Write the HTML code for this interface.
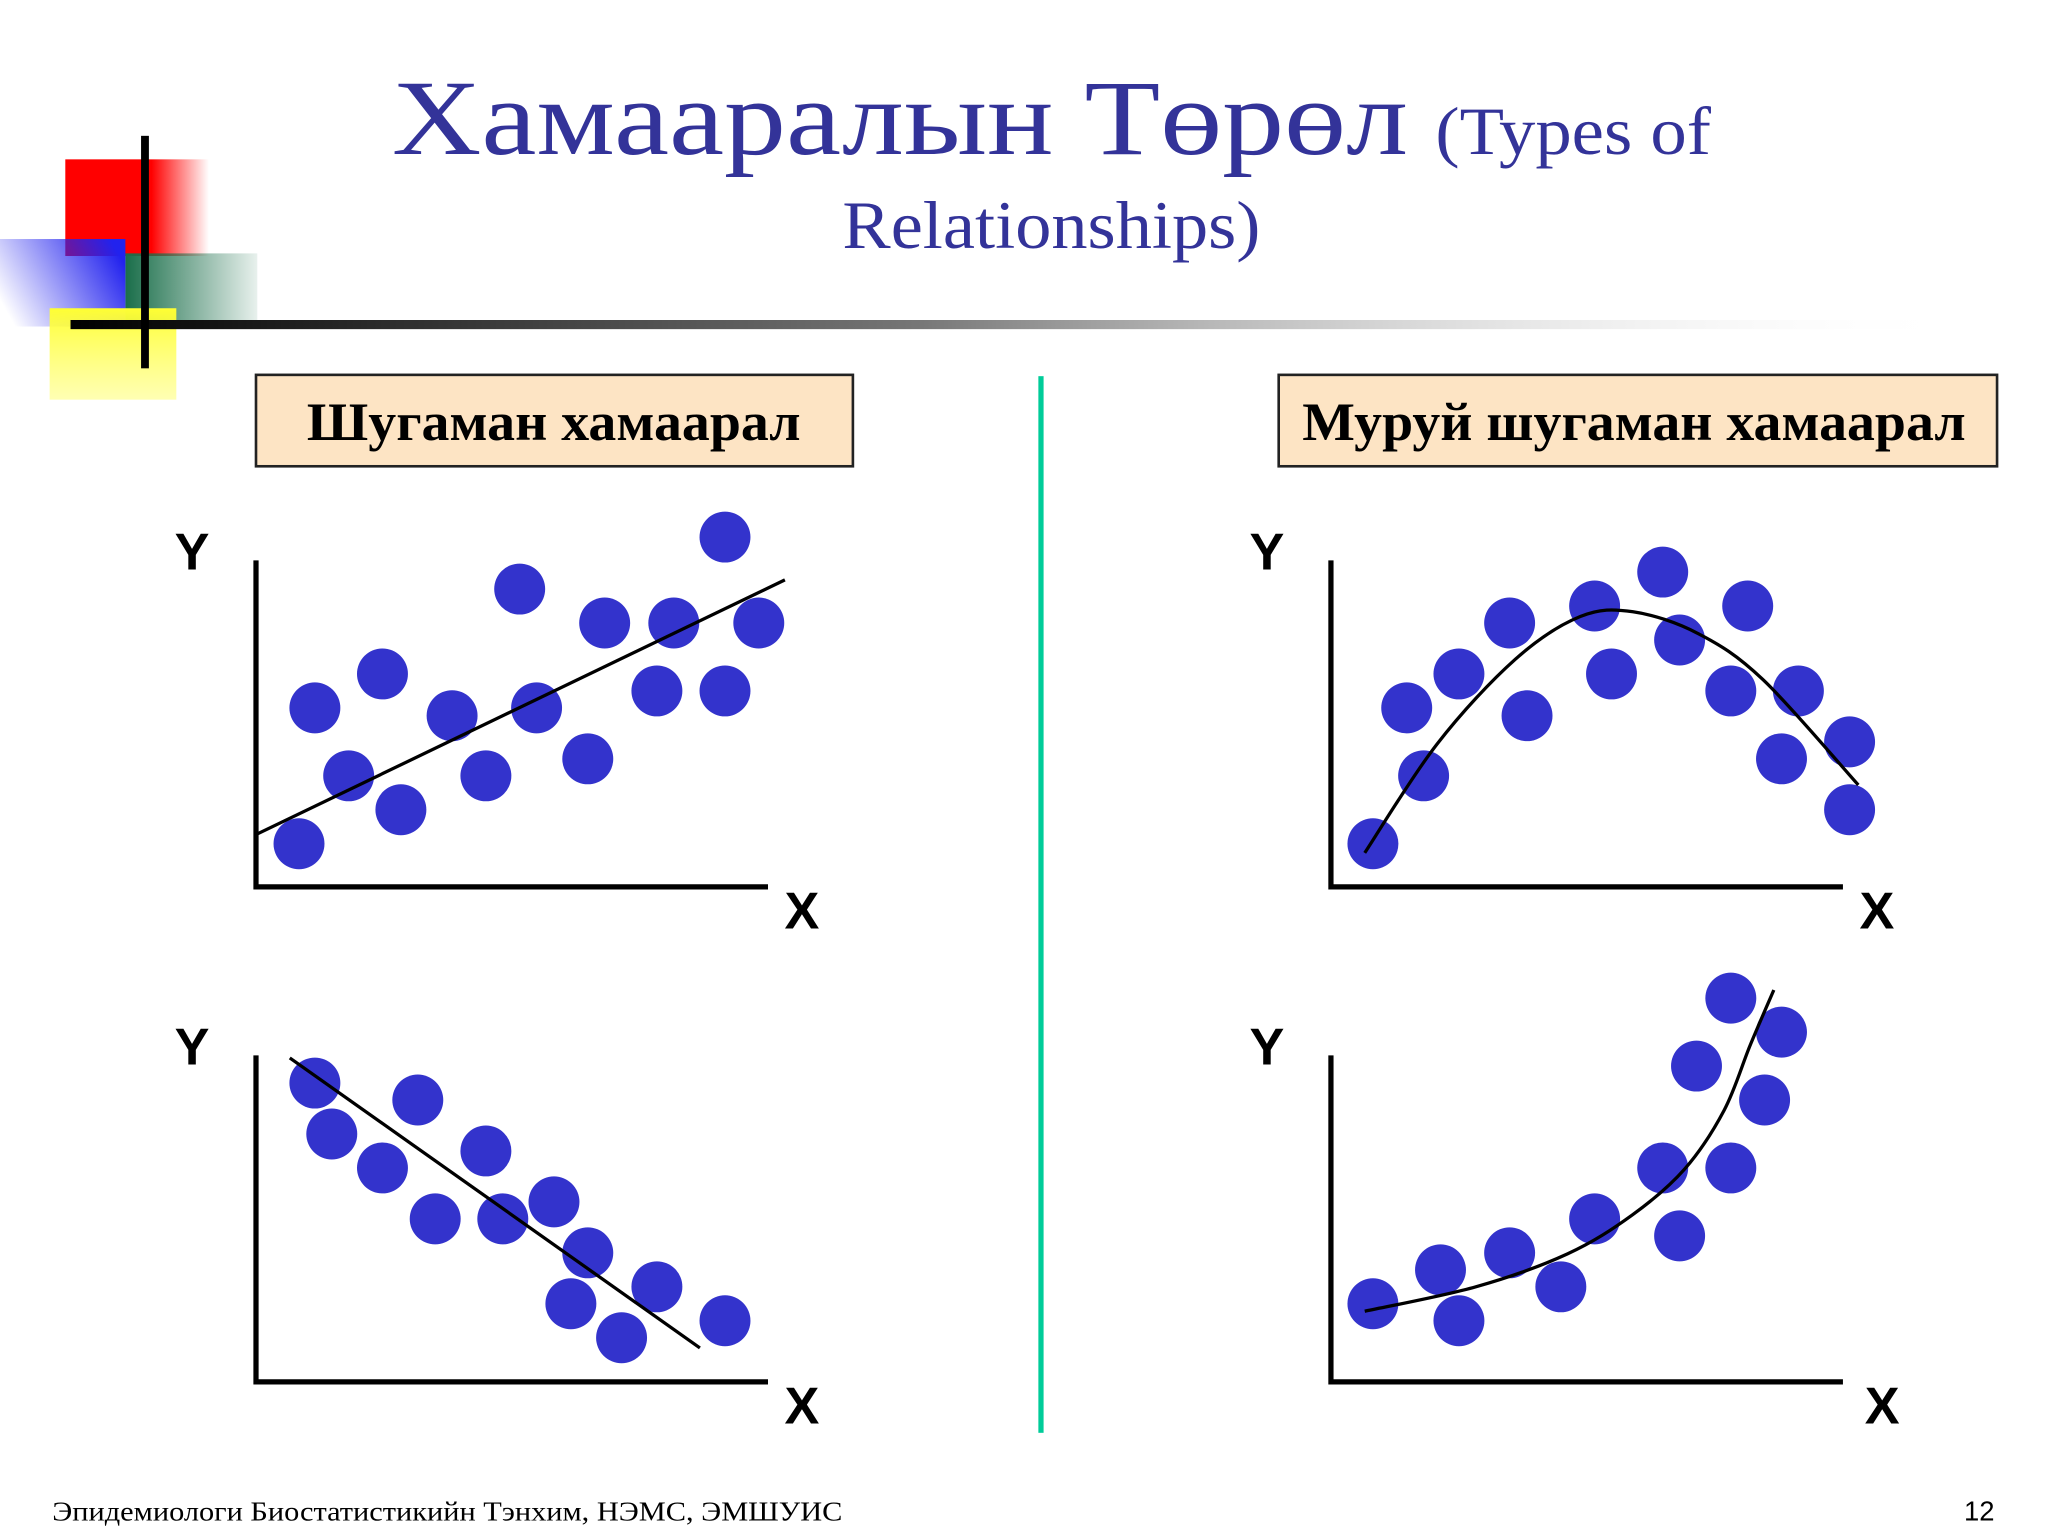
<!DOCTYPE html>
<html><head><meta charset="utf-8"><style>
html,body{margin:0;padding:0;background:#fff;}
svg{display:block;}
</style></head><body>
<svg id="chart" width="2048" height="1536" viewBox="0 0 1568 1176" xmlns="http://www.w3.org/2000/svg">
<defs>
<linearGradient id="gRed" x1="0" x2="1"><stop offset="0.6" stop-color="#ff0000"/><stop offset="1" stop-color="#ff0000" stop-opacity="0"/></linearGradient>
<linearGradient id="gBlue" x1="1" x2="0" y1="0.3" y2="0.7"><stop offset="0" stop-color="#2222ee"/><stop offset="1" stop-color="#2222ee" stop-opacity="0"/></linearGradient>
<linearGradient id="gGreen" x1="0" x2="1"><stop offset="0" stop-color="#1a6e4a"/><stop offset="1" stop-color="#1a6e4a" stop-opacity="0.1"/></linearGradient>
<linearGradient id="gYellow" x1="0" x2="0" y1="0" y2="1"><stop offset="0" stop-color="#ffff33"/><stop offset="1" stop-color="#ffff66" stop-opacity="0.5"/></linearGradient>
<linearGradient id="gLine" x1="0" x2="1"><stop offset="0" stop-color="#000"/><stop offset="0.45" stop-color="#777"/><stop offset="1" stop-color="#fff" stop-opacity="0"/></linearGradient>
</defs>
<g>
<rect x="50" y="122" width="110" height="74" fill="url(#gRed)"/>
<rect x="96" y="194" width="101" height="52" fill="url(#gGreen)"/>
<rect x="0" y="183" width="96" height="67" fill="url(#gBlue)"/>
<rect x="38" y="236" width="97" height="70" fill="url(#gYellow)"/>
<rect x="54" y="245" width="1450" height="7" fill="url(#gLine)"/>
<rect x="108" y="104" width="6" height="178" fill="#000"/>
</g>
<text x="300" y="118" font-family="Liberation Serif, serif" font-size="82" fill="#333399" textLength="778" lengthAdjust="spacingAndGlyphs">Хамааралын Төрөл</text>
<text x="1099" y="118" font-family="Liberation Serif, serif" font-size="52" fill="#333399" textLength="211" lengthAdjust="spacingAndGlyphs">(Types of</text>
<text x="645" y="190" font-family="Liberation Serif, serif" font-size="52" fill="#333399" textLength="320" lengthAdjust="spacingAndGlyphs">Relationships)</text>
<rect x="196" y="287" width="457" height="70" fill="#fde4c4" stroke="#222" stroke-width="2"/>
<text x="235" y="337" font-family="Liberation Serif, serif" font-weight="bold" font-size="41" textLength="378" lengthAdjust="spacingAndGlyphs">Шугаман хамаарал</text>
<rect x="979" y="287" width="550" height="70" fill="#fde4c4" stroke="#222" stroke-width="2"/>
<text x="997" y="337" font-family="Liberation Serif, serif" font-weight="bold" font-size="41" textLength="508" lengthAdjust="spacingAndGlyphs">Муруй шугаман хамаарал</text>
<rect x="795" y="288" width="4" height="809" fill="#00cc99"/>
<text x="40" y="1164" font-family="Liberation Serif, serif" font-size="21" textLength="605" lengthAdjust="spacingAndGlyphs">Эпидемиологи Биостатистикийн Тэнхим, НЭМС, ЭМШУИС</text>
<text x="1527" y="1164" text-anchor="end" font-family="Liberation Sans, sans-serif" font-size="21">12</text>
<g id="plots"></g>
</svg>
<script>
const p1x=[0.84,1.15,1.81,2.47,2.83,3.83,4.49,5.15,5.48,6.48,6.81,7.83,8.16,9.16,9.16,9.82];
const p1y=[1.27,5.27,3.27,6.27,2.27,5.04,3.27,8.77,5.27,3.77,7.77,5.77,7.77,10.3,5.77,7.77];
const p1lx=[0,10.33];
const p1ly=[1.54,9.04];
const p2x=[1.15,1.48,2.47,3.16,3.5,4.49,4.82,5.82,6.48,6.15,7.14,7.83,9.16];
const p2y=[8.8,7.3,6.3,8.3,4.8,6.8,4.8,5.3,3.8,2.3,1.3,2.8,1.8];
const p2lx=[0.66,8.67];
const p2ly=[9.54,1.0];
const p3x=[0.82,1.48,1.81,2.5,3.49,3.83,5.15,5.48,6.48,6.81,7.81,8.14,8.8,9.13,10.13,10.13];
const p3y=[1.27,5.27,3.27,6.27,7.77,5.04,8.27,6.27,9.27,7.27,5.77,8.27,3.77,5.77,4.27,2.27];
const p3lx=[0.66,2.07,3.6,4.87,5.9,7.17,8.44,10.3];
const p3ly=[1.0,4.2,6.7,7.96,8.1,7.46,6.1,3.0];
const p4x=[0.82,2.14,2.5,3.49,4.49,5.15,6.48,6.81,7.14,7.81,7.81,8.47,8.8];
const p4y=[2.3,3.3,1.8,3.8,2.8,4.8,6.3,4.3,9.3,11.3,6.3,8.3,10.3];
const p4lx=[0.66,2.83,4.62,5.89,6.91,7.68,8.19,8.65];
const p4ly=[2.08,2.8,3.77,4.92,6.27,8.0,9.92,11.54];
const NS='http://www.w3.org/2000/svg';
const root=document.getElementById('plots');
function mk(t,a,parent){const e=document.createElementNS(NS,t);for(const k in a)e.setAttribute(k,a[k]);parent.appendChild(e);return e;}
function panel(name,ox,oy,xs,ys,lx,ly,smooth,xoff){
  const g=mk('g',{},root);
  
  
  const sx=v=>ox+v*39.2, sy=v=>oy-v*26;
  const ax=mk('path',{d:`M${ox},${oy-250}V${oy}H${ox+392}`,fill:'none',stroke:'#000','stroke-width':4},g);
  
  
  const ty=mk('text',{x:ox-49,y:oy-243,'text-anchor':'middle','font-family':'Liberation Sans, sans-serif','font-weight':'bold','font-size':40},g);
  ty.textContent='Y';
  
  
  const tx=mk('text',{x:ox+418+xoff,y:oy+32,'text-anchor':'middle','font-family':'Liberation Sans, sans-serif','font-weight':'bold','font-size':40},g);
  tx.textContent='X';
  
  
  for(let i=0;i<xs.length;i++){
    const c=mk('circle',{cx:sx(xs[i]),cy:sy(ys[i]),r:19.5,fill:'#3333cc'},g);
    
    
  }
  const P=lx.map((v,i)=>[sx(v),sy(ly[i])]);
  let d='M'+P[0][0]+','+P[0][1];
  if(!smooth){for(let i=1;i<P.length;i++)d+='L'+P[i][0]+','+P[i][1];}
  else{for(let i=0;i<P.length-1;i++){const p0=P[Math.max(i-1,0)],p1=P[i],p2=P[i+1],p3=P[Math.min(i+2,P.length-1)];
    const c1=[p1[0]+(p2[0]-p0[0])/6,p1[1]+(p2[1]-p0[1])/6],c2=[p2[0]-(p3[0]-p1[0])/6,p2[1]-(p3[1]-p1[1])/6];
    d+=`C${c1[0]},${c1[1]} ${c2[0]},${c2[1]} ${p2[0]},${p2[1]}`;}}
  const l=mk('path',{d:d,fill:'none',stroke:'#000','stroke-width':2.5},g);
  
  
}
panel('positive-linear-plot',196,679,p1x,p1y,p1lx,p1ly,false,0);
panel('negative-linear-plot',196,1058,p2x,p2y,p2lx,p2ly,false,0);
panel('inverted-u-plot',1019,679,p3x,p3y,p3lx,p3ly,true,0);
panel('exponential-plot',1019,1058,p4x,p4y,p4lx,p4ly,true,4);
</script>
</body></html>
